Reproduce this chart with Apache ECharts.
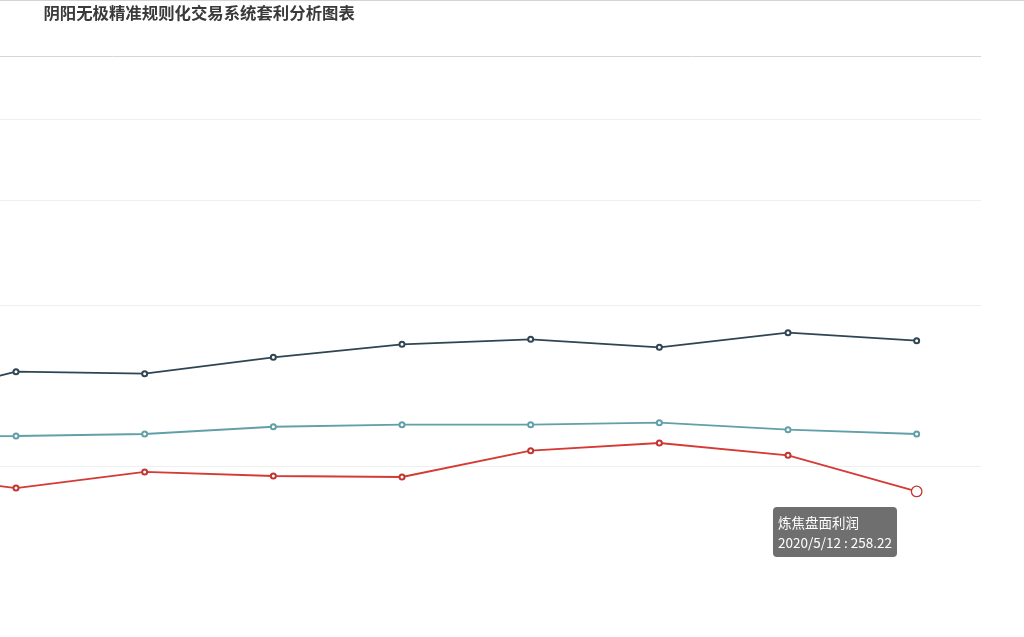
<!DOCTYPE html>
<html>
<head>
<meta charset="utf-8">
<script src="https://cdn.jsdelivr.net/npm/echarts@6/dist/echarts.min.js"></script>
<style>
html,body{margin:0;padding:0;background:#fff;overflow:hidden;width:1024px;height:637px;}
#chart{position:absolute;left:-177.4px;top:0;width:1201.4px;height:746px;}
#topline{position:absolute;left:0;top:0;width:1024px;height:1px;background:#d4d4d4;z-index:5;}
</style>
</head>
<body>
<div id="chart"></div>
<div id="topline"></div>
<script>
const categories = ['2020/4/27','2020/4/28','2020/4/29','2020/4/30','2020/5/6','2020/5/7','2020/5/8','2020/5/11','2020/5/12'];
const cokingProfit = [278.0, 261.7, 278.0, 273.9, 272.9, 299.6, 307.4, 294.9, 258.22];
const profitB = [347.2, 379.7, 377.7, 394.3, 407.5, 412.6, 404.5, 419.3, 411.2];
const profitC = [314.0, 314.5, 316.5, 323.9, 326.0, 326.0, 328.0, 320.9, 316.5];
const gridTicks = [284, 447, 554, 636, 700];
const yMin = 0, yMax = 700;

const chart = echarts.init(document.getElementById('chart'));
const font = '"Noto Sans CJK SC", "Noto Sans", sans-serif';
chart.setOption({
  animation: false,
  color: ['#c23531', '#2f4554', '#61a0a8'],
  title: {
    text: '阴阳无极精准规则化交易系统套利分析图表',
    left: 215.4, top: 0, padding: 5,
    textStyle: { fontSize: 16.4, fontWeight: 'bold', color: '#3a3a3a', fontFamily: font }
  },
  tooltip: {
    trigger: 'item',
    formatter: '{a}<br/>{b} : {c}',
    backgroundColor: 'rgba(50,50,50,0.7)',
    borderWidth: 0,
    padding: 5,
    transitionDuration: 0,
    extraCssText: 'box-shadow:none;border-radius:4px;line-height:20px;',
    textStyle: { color: '#fff', fontSize: 13.5, fontFamily: font },
    position: function (point, params, dom, rect, size) {
      return [point[0] - size.contentSize[0] - 20, point[1] + 16];
    }
  },
  grid: { left: 0, right: 43, top: 56, bottom: 0, containLabel: false },
  xAxis: {
    type: 'category',
    data: categories,
    axisLabel: { show: false },
    axisTick: { show: false },
    axisLine: { show: false }
  },
  yAxis: {
    type: 'value',
    min: yMin, max: yMax,
    axisLine: { show: false },
    axisLabel: { show: false },
    axisTick: { show: false, customValues: gridTicks },
    splitLine: { show: true, lineStyle: { color: ['#efefef', '#efefef', '#efefef', '#efefef', '#d6d6d6'], width: 1 } }
  },
  series: [
    { name: '炼焦盘面利润', type: 'line', data: cokingProfit, symbol: 'emptyCircle', symbolSize: 5,
      lineStyle: { width: 1.8 }, itemStyle: { borderWidth: 1 }, emphasis: { scale: 2.1, itemStyle: { borderWidth: 1.3 } } },
    { name: '盘面利润二', type: 'line', data: profitB, symbol: 'emptyCircle', symbolSize: 5,
      lineStyle: { width: 1.8 }, itemStyle: { borderWidth: 1 } },
    { name: '盘面利润三', type: 'line', data: profitC, symbol: 'emptyCircle', symbolSize: 5,
      lineStyle: { width: 1.8 }, itemStyle: { borderWidth: 1 } }
  ]
});
chart.dispatchAction({ type: 'highlight', seriesIndex: 0, dataIndex: cokingProfit.length - 1 });
chart.dispatchAction({ type: 'showTip', seriesIndex: 0, dataIndex: cokingProfit.length - 1 });
</script>
</body>
</html>
